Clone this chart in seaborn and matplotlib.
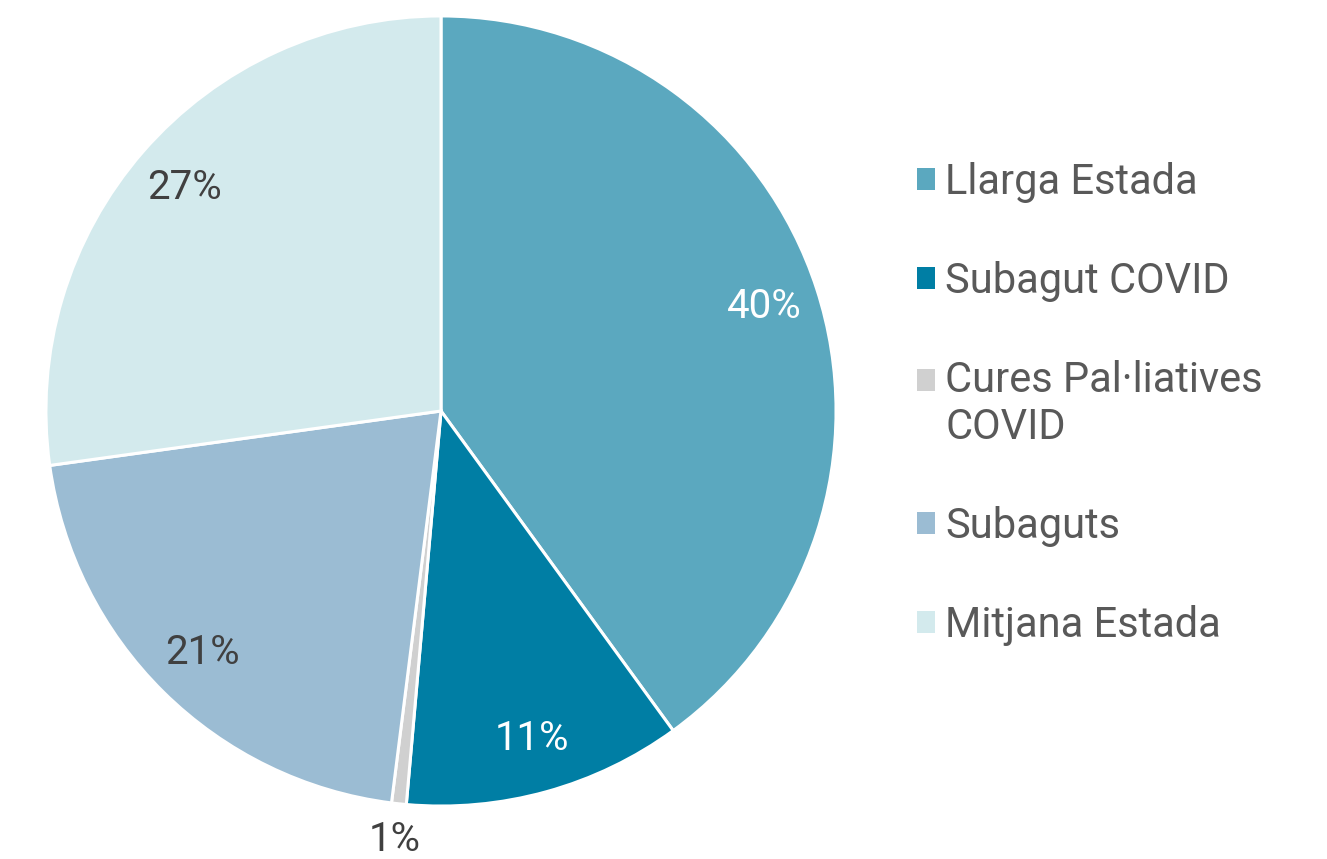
import numpy as np
import seaborn as sns
import matplotlib.pyplot as plt
from matplotlib.patches import Rectangle
from matplotlib.legend_handler import HandlerBase

# share of stays by care type (%)
categories = ['Llarga Estada', 'Subagut COVID', 'Cures Pal·liatives\nCOVID',
              'Subaguts', 'Mitjana Estada']
shares = [40.0, 11.4, 0.6, 20.8, 27.2]
colors = ['#5BA8BF', '#007EA4', '#D0D0D0', '#9BBCD3', '#D3EAED']
label_colors = ['white', 'white', '#404040', '#404040', '#404040']

sns.set_theme(style='white')
plt.rcParams['font.family'] = ['Roboto', 'DejaVu Sans']


class SquareHandler(HandlerBase):
    # small square patch, lifted to first line for two-line labels
    def __init__(self, lift=0.0):
        super().__init__()
        self.lift = lift

    def create_artists(self, legend, orig_handle, xdescent, ydescent,
                       width, height, fontsize, trans):
        sq = Rectangle((-xdescent, -ydescent + self.lift * fontsize),
                       width, height, facecolor=orig_handle.get_facecolor(),
                       edgecolor='none', transform=trans)
        return [sq]


fig = plt.figure(figsize=(13.27, 8.59), dpi=100)
ax = fig.add_axes([(441 - 399) / 1327, (859 - 411 - 399) / 859,
                   798 / 1327, 798 / 859])

wedges, _ = ax.pie(shares, colors=colors, startangle=90, counterclock=False,
                   wedgeprops=dict(edgecolor='white', linewidth=2.2))
ax.set_xlim(-1.01, 1.01)
ax.set_ylim(-1.01, 1.01)
ax.set_aspect('equal')

# percentage labels
for w, pct, tc in zip(wedges, shares, label_colors):
    ang = np.deg2rad((w.theta1 + w.theta2) / 2)
    r = 0.86 if pct > 3 else 1.09
    ax.text(r * np.cos(ang), r * np.sin(ang), f'{round(pct)}%',
            ha='center', va='center', fontsize=29, color=tc)

hmap = {w: SquareHandler(0.6 if '\n' in lab else 0.0)
        for w, lab in zip(wedges, categories)}
leg = fig.legend(wedges, categories, handler_map=hmap, loc='upper left',
                 bbox_to_anchor=(0.663, 0.855), frameon=False, fontsize=30,
                 handlelength=0.43, handleheight=0.43, handletextpad=0.24,
                 labelspacing=1.39, labelcolor='#595959')

plt.savefig('out.png', dpi=100)
